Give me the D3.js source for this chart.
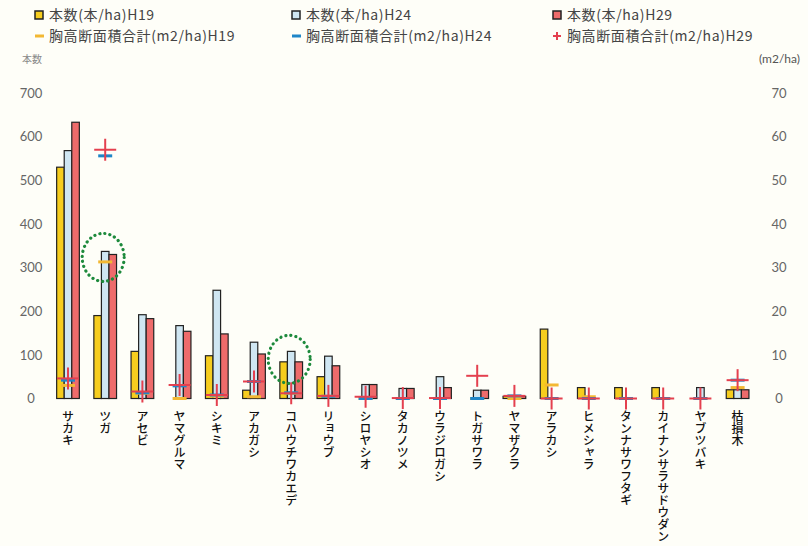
<!DOCTYPE html>
<html><head><meta charset="utf-8">
<script src="https://cdn.jsdelivr.net/npm/d3@7"></script>
<style>
html,body{margin:0;padding:0;background:#fefef8;}
svg{display:block;}
</style></head>
<body>
<script>
const categories = ["サカキ","ツガ","アセビ","ヤマグルマ","シキミ","アカガシ","コハウチワカエデ","リョウブ","シロヤシオ","タカノツメ","ウラジロガシ","トガサワラ","ヤマザクラ","アラカシ","ヒメシャラ","タンナサワフタギ","カイナンサラサドウダン","ヤブツバキ","枯損木"];
const countH19 = [530,190,108,0,98,19,84,50,0,0,0,0,5,159,25,25,25,0,20];
const countH24 = [568,337,192,167,248,129,108,97,32,23,50,19,5,0,0,0,0,25,20];
const countH29 = [633,330,183,154,148,102,84,75,32,23,25,19,5,0,0,0,0,0,20];
const basalH19 = [3.0,31.3,1.2,0,0.5,0.4,1.2,0.5,0,0,0,0,0,3.1,0.4,0,0,0,2.5];
const basalH24 = [4.2,55.6,1.3,2.9,0.8,3.9,1.3,0.5,0,0,0,0,0.6,0,0,0,0,0,4.2];
const basalH29 = [4.6,57.0,1.6,3.1,0.8,3.9,1.2,0.6,0.4,0.1,0.1,5.2,0.6,0,0,0,0,0,4.2];
const leftTicks = [0,100,200,300,400,500,600,700];
const rightTicks = [0,10,20,30,40,50,60,70];
const barSeries = ["本数(本/ha)H19","本数(本/ha)H24","本数(本/ha)H29"];
const markSeries = ["胸高断面積合計(m2/ha)H19","胸高断面積合計(m2/ha)H24","胸高断面積合計(m2/ha)H29"];
const highlighted = ["ツガ","コハウチワカエデ"];

const W=808,H=546;
const barColors=["#f6cd1e","#cfe6f2","#ee6b6b"];
const markColors=["#f3b833","#1f86c8","#e4404f"];
const jp='"Noto Sans CJK JP","Noto Sans",sans-serif';
const num='Lato,"Open Sans",sans-serif';

const svg=d3.select("body").append("svg").attr("width",W).attr("height",H);
svg.append("rect").attr("width",W).attr("height",H).attr("fill","#fefef8");

const x0=d3.scaleBand().domain(categories).range([49.4,756.2]).paddingInner(0.39).paddingOuter(0.195);
const x1=d3.scaleBand().domain([0,1,2]).range([0,x0.bandwidth()]);
const yL=d3.scaleLinear().domain([0,700]).range([398.5,93]);
const yR=d3.scaleLinear().domain([0,70]).range([398.5,93]);

// axes (labels only)
const axL=d3.axisLeft(yL).tickValues(leftTicks).tickSize(0).tickPadding(0);
const gL=svg.append("g").attr("transform","translate(42,0)").call(axL);
gL.select(".domain").remove();
gL.selectAll("text").attr("font-family",num).attr("font-size",13).attr("fill","#666").attr("text-anchor","middle").attr("x",-11);
const axR=d3.axisRight(yR).tickValues(rightTicks).tickSize(0).tickPadding(0);
const gR=svg.append("g").attr("transform","translate(768,0)").call(axR);
gR.select(".domain").remove();
gR.selectAll("text").attr("font-family",num).attr("font-size",13).attr("fill","#666").attr("text-anchor","middle").attr("x",11);

// bars
const counts=[countH19,countH24,countH29];
categories.forEach((c,i)=>{
  const g=svg.append("g").attr("transform",`translate(${x0(c)},0)`);
  counts.forEach((arr,s)=>{
    const v=arr[i];
    if(v<=0) return;
    g.append("rect").attr("x",x1(s)).attr("width",x1.bandwidth())
      .attr("y",yL(v)).attr("height",yL(0)-yL(v))
      .attr("fill",barColors[s]).attr("stroke","#222").attr("stroke-width",1.2);
  });
});

// basal area markers
const basals=[basalH19,basalH24,basalH29];
categories.forEach((c,i)=>{
  const cx=x0(c)+x0.bandwidth()/2;
  [0,1].forEach(s=>{
    const y=yR(basals[s][i]);
    svg.append("line").attr("x1",cx-7).attr("x2",cx+7).attr("y1",y).attr("y2",y)
      .attr("stroke",markColors[s]).attr("stroke-width",3);
  });
  const y=yR(basals[2][i]);
  svg.append("line").attr("x1",cx-11).attr("x2",cx+11).attr("y1",y).attr("y2",y).attr("stroke",markColors[2]).attr("stroke-width",2);
  svg.append("line").attr("x1",cx).attr("x2",cx).attr("y1",y-11).attr("y2",y+11).attr("stroke",markColors[2]).attr("stroke-width",2);
});

// highlight circles
highlighted.forEach(c=>{
  const i=categories.indexOf(c);
  const cx=x0(c)+x0.bandwidth()/2;
  const top=Math.max(countH24[i],countH29[i]);
  svg.append("ellipse").attr("cx",cx-2).attr("cy",yL(top)+ (i===1?6:8)).attr("rx",21).attr("ry",24)
    .attr("fill","none").attr("stroke","#1d8a3c").attr("stroke-width",3.2)
    .attr("stroke-dasharray","0.1 5").attr("stroke-linecap","round");
});

// category labels (vertical)
categories.forEach(c=>{
  svg.append("text").attr("x",x0(c)+x0.bandwidth()/2).attr("y",410)
    .attr("font-family",jp).attr("font-size",12).attr("font-weight",500).attr("fill","#111")
    .style("writing-mode","vertical-rl").style("text-orientation","upright")
    .text(c);
});

// axis titles
svg.append("text").attr("x",22).attr("y",63).attr("font-family",jp).attr("font-size",10).attr("fill","#888").text("本数");
svg.append("text").attr("x",800).attr("y",63).attr("text-anchor","end").attr("font-family",num).attr("font-size",12).attr("fill","#555").text("(m2/ha)");

// legend
const legX=[35,292,553];
barSeries.forEach((t,s)=>{
  svg.append("rect").attr("x",legX[s]).attr("y",11).attr("width",8).attr("height",8)
    .attr("fill",barColors[s]).attr("stroke","#222").attr("stroke-width",1.5);
  svg.append("text").attr("x",legX[s]+14).attr("y",20).attr("font-family",jp).attr("font-size",14).attr("letter-spacing",0.6).attr("fill","#444").text(t);
});
markSeries.forEach((t,s)=>{
  const lx=legX[s]+4,ly=36;
  if(s<2){
    svg.append("line").attr("x1",lx-4).attr("x2",lx+5).attr("y1",ly).attr("y2",ly).attr("stroke",markColors[s]).attr("stroke-width",3);
  } else {
    svg.append("line").attr("x1",lx-4).attr("x2",lx+4).attr("y1",ly).attr("y2",ly).attr("stroke",markColors[2]).attr("stroke-width",2);
    svg.append("line").attr("x1",lx).attr("x2",lx).attr("y1",ly-4).attr("y2",ly+4).attr("stroke",markColors[2]).attr("stroke-width",2);
  }
  svg.append("text").attr("x",legX[s]+14).attr("y",41).attr("font-family",jp).attr("font-size",14).attr("letter-spacing",0.6).attr("fill","#444").text(t);
});
</script>
</body></html>
